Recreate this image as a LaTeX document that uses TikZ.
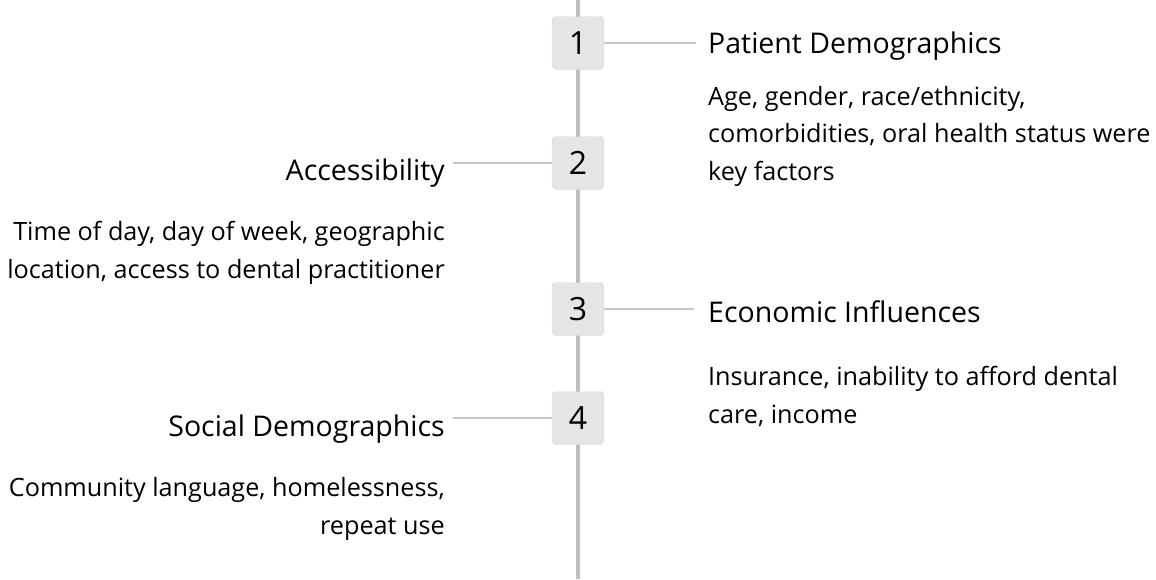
\documentclass[tikz,border=0pt]{standalone}
\usepackage{fontspec}
\setmainfont{Open Sans}
\begin{document}
\begin{tikzpicture}[x=1pt,y=1pt,
  spine/.style={draw=black!25,line width=3.2pt},
  link/.style={draw=black!22,line width=2.4pt},
  numbox/.style={draw=black!30,densely dotted,fill=black!10,rounded corners=4pt,
    minimum width=52pt,minimum height=53pt,inner sep=0pt,font=\fontsize{32}{34}\selectfont},
  head/.style={font=\fontsize{28.5}{30}\selectfont,inner sep=0pt},
  bodyr/.style={font=\fontsize{25.2}{37.5}\selectfont,align=left,anchor=base west,inner sep=0pt},
  bodyl/.style={font=\fontsize{25.2}{37.5}\selectfont,align=right,anchor=base east,inner sep=0pt}]
\useasboundingbox (0,0) rectangle (1156,-579);
% timeline spine
\coordinate (top) at (578,0);
\coordinate (bot) at (578,-579);
\draw[spine] (top) -- (bot);
% numbered steps
\node[numbox] (b1) at (578,-43) {1};
\node[numbox] (b2) at (578,-163) {2};
\node[numbox] (b3) at (578,-309) {3};
\node[numbox] (b4) at (578,-418) {4};
% headings
\node[head,anchor=base west] (h1) at (708,-53) {Patient Demographics};
\node[head,anchor=base east] (h2) at (445,-180) {Accessibility};
\node[head,anchor=base west] (h3) at (708,-322) {Economic Influences};
\node[head,anchor=base east] (h4) at (445,-436) {Social Demographics};
% connectors
\draw[link,shorten >=12pt] (b1.east) -- (b1.east -| h1.west);
\draw[link,shorten >=8pt] (b2.west) -- (b2.west -| h2.east);
\draw[link,shorten >=14pt] (b3.east) -- (b3.east -| h3.west);
\draw[link,shorten >=8pt] (b4.west) -- (b4.west -| h4.east);
% descriptions (base anchor sits on the last line)
\node[bodyr] (t1) at (708,-180) {Age, gender, race/ethnicity,\\comorbidities, oral health status were\\key factors};
\node[bodyl] (t2) at (445,-278) {Time of day, day of week, geographic\\location, access to dental practitioner};
\node[bodyr] (t3) at (708,-423) {Insurance, inability to afford dental\\care, income};
\node[bodyl] (t4) at (445,-534) {Community language, homelessness,\\repeat use};
\end{tikzpicture}
\end{document}
